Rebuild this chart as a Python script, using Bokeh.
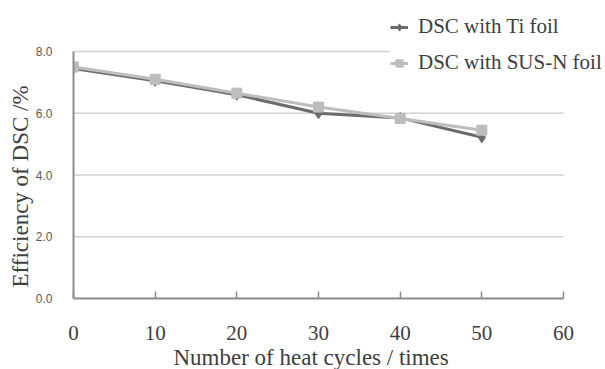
from bokeh.plotting import figure
from bokeh.models import Legend, LegendItem, FixedTicker, Range1d, CustomJSTickFormatter, Title
from bokeh.embed import file_html
from bokeh.resources import INLINE

cycles = [0, 10, 20, 30, 40, 50]
ti_eff = [7.45, 7.05, 6.60, 6.00, 5.85, 5.22]
sus_eff = [7.50, 7.10, 6.65, 6.20, 5.83, 5.45]
x_ticks = [0, 10, 20, 30, 40, 50, 60]
y_ticks = [0, 2, 4, 6, 8]
x_title = "Number of heat cycles / times"
y_title = "Efficiency of DSC /%"

SERIF = "Liberation Serif"
SANS = "Liberation Sans"

X_MAX, Y_MAX = 60, 8
W, H = 605, 369
LEFT, BOTTOM = 73, 71
PLOT_W, PLOT_H = 490, 247  # pixel extent of the 0..60 / 0..8 axes
x_end = X_MAX * (W - LEFT) / PLOT_W
y_end = Y_MAX * (H - BOTTOM) / PLOT_H

p = figure(width=W, height=H, output_backend="svg", toolbar_location=None,
           x_range=Range1d(0, x_end), y_range=Range1d(0, y_end),
           min_border_left=LEFT, min_border_right=0, min_border_top=0, min_border_bottom=BOTTOM)
p.outline_line_color = None
p.background_fill_color = "white"
p.border_fill_color = "white"

p.xgrid.grid_line_color = None
p.ygrid.grid_line_color = None

# horizontal gridlines across the 0..60 axis extent
p.segment(x0=[0] * len(y_ticks), x1=[X_MAX] * len(y_ticks), y0=y_ticks, y1=y_ticks,
          line_color="#d0d0d0", line_width=1.5)

p.xaxis.ticker = FixedTicker(ticks=x_ticks)
p.xaxis.bounds = (0, X_MAX)
p.xaxis.axis_line_color = "#8c8c8c"
p.xaxis.axis_line_width = 2
p.xaxis.major_tick_line_color = "#8c8c8c"
p.xaxis.major_tick_line_width = 1.5
p.xaxis.major_tick_in = 7
p.xaxis.major_tick_out = 0
p.xaxis.minor_tick_line_color = None
p.xaxis.major_label_text_font = SERIF
p.xaxis.major_label_text_font_size = "21px"
p.xaxis.major_label_text_color = "#404040"
p.xaxis.major_label_standoff = 27

p.yaxis.ticker = FixedTicker(ticks=y_ticks)
p.yaxis.bounds = (0, Y_MAX)
p.yaxis.formatter = CustomJSTickFormatter(code="return tick.toFixed(1);")
p.yaxis.axis_line_color = "#8c8c8c"
p.yaxis.axis_line_width = 2
p.yaxis.major_tick_line_color = None
p.yaxis.minor_tick_line_color = None
p.yaxis.major_label_text_font = SANS
p.yaxis.major_label_text_font_size = "12px"
p.yaxis.major_label_text_color = "#595959"
p.yaxis.major_label_standoff = 15

# axis titles as side titles so they can be centred on the 0..60 / 0..8 extent
xt = Title(text=x_title, align="left", offset=100, standoff=0,
           text_font=SERIF, text_font_size="23px", text_font_style="normal", text_color="#404040")
p.add_layout(xt, "below")
yt = Title(text=y_title, align="left", offset=11, standoff=0,
           text_font=SERIF, text_font_size="23px", text_font_style="normal", text_color="#404040")
p.add_layout(yt, "left")

ti_line = p.line(cycles, ti_eff, line_color="#6b6b6b", line_width=3)
ti_mark = p.scatter(cycles, ti_eff, marker="diamond", size=11, fill_color="#6b6b6b", line_color="#6b6b6b")
sus_line = p.line(cycles, sus_eff, line_color="#bdbdbd", line_width=3)
sus_mark = p.scatter(cycles, sus_eff, marker="square", size=10, fill_color="#bdbdbd", line_color="#bdbdbd")

legend = Legend(items=[
    LegendItem(label="DSC with Ti foil", renderers=[ti_line, ti_mark]),
    LegendItem(label="DSC with SUS-N foil", renderers=[sus_line, sus_mark]),
], location=(317, 223))
legend.label_text_font = SERIF
legend.label_text_font_size = "21px"
legend.label_text_color = "#404040"
legend.border_line_color = None
legend.background_fill_color = "white"
legend.background_fill_alpha = 1.0
legend.glyph_width = 18
legend.glyph_height = 20
legend.spacing = 11
legend.label_standoff = 10
legend.padding = 25
p.add_layout(legend, "center")

open("out.html", "w").write(file_html(p, INLINE))
